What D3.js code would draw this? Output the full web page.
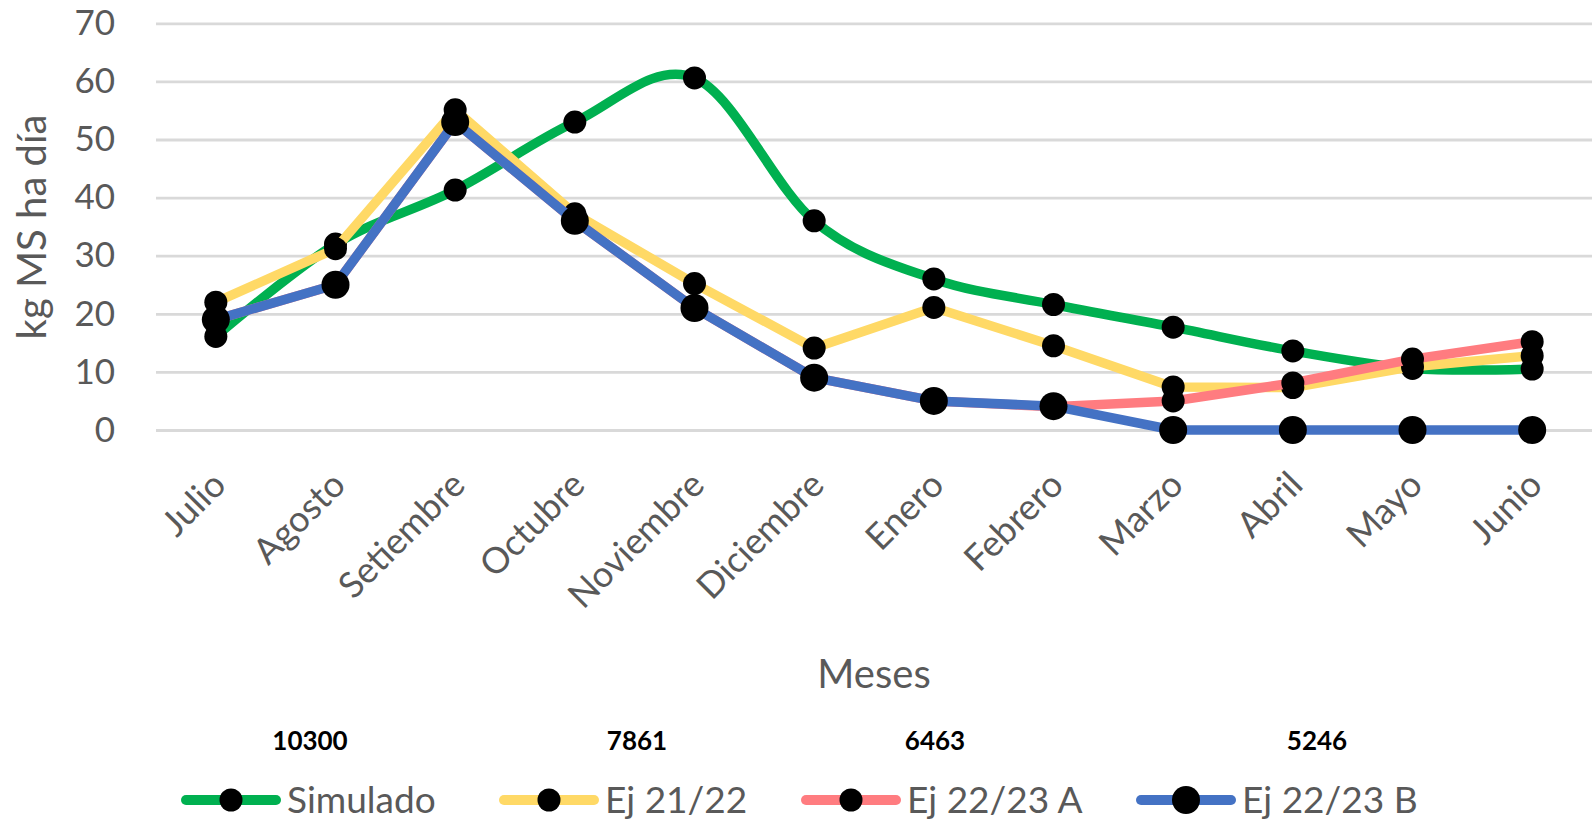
<!DOCTYPE html>
<html>
<head>
<meta charset="utf-8">
<script src="https://cdn.jsdelivr.net/npm/d3@7"></script>
<style>
  html, body { margin: 0; padding: 0; background: #fff; }
  svg { display: block; font-family: Lato, 'Open Sans', sans-serif; }
</style>
</head>
<body>
<svg id="chart" width="1595" height="823"></svg>
<script>
/* global d3 */

// data
const months = ['Julio', 'Agosto', 'Setiembre', 'Octubre', 'Noviembre', 'Diciembre',
  'Enero', 'Febrero', 'Marzo', 'Abril', 'Mayo', 'Junio']
const simulado = [16.1, 32, 41.3, 53, 60.6, 36, 26, 21.6, 17.7, 13.6, 10.6, 10.5]
const ej2122 = [22, 31.2, 55.1, 37.2, 25.2, 14.1, 21.1, 14.5, 7.4, 7.3, 10.9, 12.8]
const ej2223A = [19, 25, 53, 36, 21, 9, 5, 4, 5, 8.1, 12.2, 15.2]
const ej2223B = [19, 25, 53, 36, 21, 9, 5, 4.1, 0, 0, 0, 0]
const seriesNames = ['Simulado', 'Ej 21/22', 'Ej 22/23 A', 'Ej 22/23 B']
const seriesColors = ['#00B050', '#FFD966', '#FF7C80', '#4472C4']
const totals = [10300, 7861, 6463, 5246]
const yTicks = [0, 10, 20, 30, 40, 50, 60, 70]

const series = [
  { name: seriesNames[0], values: simulado, color: seriesColors[0], r: 11.5, smooth: true },
  { name: seriesNames[1], values: ej2122, color: seriesColors[1], r: 11.5, smooth: false },
  { name: seriesNames[2], values: ej2223A, color: seriesColors[2], r: 11.5, smooth: false },
  { name: seriesNames[3], values: ej2223B, color: seriesColors[3], r: 14, smooth: false }
]

const svg = d3.select('#chart')
const plotLeft = 156
const plotRight = 1592
const plotTop = 23.3
const plotBottom = 430
const textColor = '#595959'

const x = d3.scaleBand().domain(months).range([plotLeft, plotRight]).padding(0)
const cx = m => x(m) + x.bandwidth() / 2
const y = d3.scaleLinear().domain([0, 70]).range([plotBottom, plotTop])

// gridlines + y labels
const yAxis = svg.append('g')
  .attr('transform', `translate(${plotLeft},0)`)
  .call(d3.axisLeft(y).tickValues(yTicks).tickSize(-(plotRight - plotLeft)).tickPadding(41))
yAxis.select('.domain').remove()
yAxis.selectAll('.tick line')
  .attr('stroke', '#D9D9D9')
  .attr('stroke-width', 2.8)
yAxis.selectAll('.tick text')
  .attr('fill', textColor)
  .style('font-size', '35px')
  .style('font-family', 'Lato, sans-serif')

// x labels
const xAxis = svg.append('g')
xAxis.selectAll('text')
  .data(months)
  .enter().append('text')
  .attr('transform', d => `translate(${cx(d) + 12},487) rotate(-45)`)
  .attr('text-anchor', 'end')
  .attr('fill', textColor)
  .style('font-size', '36px')
  .text(d => d)

// axis titles
svg.append('text')
  .attr('transform', 'translate(46,227) rotate(-90)')
  .attr('text-anchor', 'middle')
  .attr('fill', textColor)
  .style('font-size', '40px')
  .text('kg MS ha día')

svg.append('text')
  .attr('x', 874)
  .attr('y', 688)
  .attr('text-anchor', 'middle')
  .attr('fill', textColor)
  .style('font-size', '40px')
  .text('Meses')

// series
series.forEach(s => {
  const line = d3.line()
    .x((d, i) => cx(months[i]))
    .y(d => y(d))
    .curve(s.smooth ? d3.curveCardinal : d3.curveLinear)

  const g = svg.append('g')
  g.append('path')
    .datum(s.values)
    .attr('d', line)
    .attr('fill', 'none')
    .attr('stroke', s.color)
    .attr('stroke-width', 9.5)
    .attr('stroke-linejoin', 'round')
    .attr('stroke-linecap', 'round')

  g.selectAll('circle')
    .data(s.values)
    .enter().append('circle')
    .attr('cx', (d, i) => cx(months[i]))
    .attr('cy', d => y(d))
    .attr('r', s.r)
    .attr('fill', '#000')
})

// totals above the legend
const totalX = [310, 637, 935, 1317]
svg.append('g').selectAll('text')
  .data(totals)
  .enter().append('text')
  .attr('x', (d, i) => totalX[i])
  .attr('y', 750)
  .attr('text-anchor', 'middle')
  .attr('fill', '#000')
  .style('font-size', '26px')
  .style('font-weight', 'bold')
  .text(d => d)

// legend
const legendX = [181, 499, 801, 1136]
const legend = svg.append('g')
series.forEach((s, i) => {
  const lx = legendX[i]
  legend.append('line')
    .attr('x1', lx + 5)
    .attr('x2', lx + 95)
    .attr('y1', 800)
    .attr('y2', 800)
    .attr('stroke', s.color)
    .attr('stroke-width', 10)
    .attr('stroke-linecap', 'round')
  legend.append('circle')
    .attr('cx', lx + 50)
    .attr('cy', 800)
    .attr('r', s.r)
    .attr('fill', '#000')
  legend.append('text')
    .attr('x', lx + 106)
    .attr('y', 813)
    .attr('fill', textColor)
    .style('font-size', '37px')
    .text(s.name)
})
</script>
</body>
</html>
